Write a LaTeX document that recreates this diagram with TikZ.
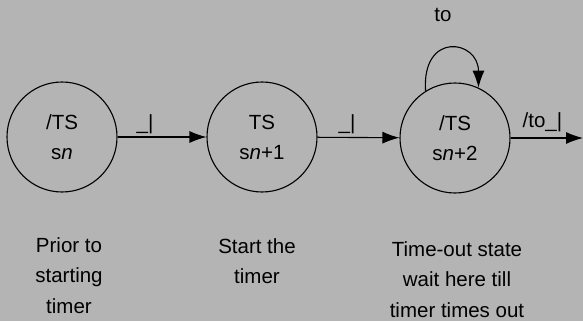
\documentclass[tikz,border=0pt]{standalone}
\usepackage{fontspec}
\setmainfont{Liberation Sans}
\usetikzlibrary{arrows.meta}
\definecolor{panelgray}{RGB}{180,180,180}

\begin{document}
\begin{tikzpicture}[x=1pt, y=-1pt,
  state/.style={draw, circle, line width=1.1pt, minimum size=110pt, inner sep=0pt,
    align=center, font=\fontsize{20.5}{30}\selectfont},
  trans/.style={line width=1.1pt, -{Latex[length=17pt, width=12pt]}},
  lbl/.style={inner sep=0pt, font=\fontsize{20.5}{30}\selectfont},
  note/.style={inner sep=0pt, anchor=north, align=center, font=\fontsize{20.5}{30.5}\selectfont}]
\fill[panelgray] (0,0) rectangle (583,321);
\useasboundingbox (0,0) rectangle (583,321);
% states
\node[state] (sn) at (62,137) {/TS\\s\textit{n}};
\node[state] (sn1) at (262,137) {TS\\s\textit{n}+1};
\node[state] (sn2) at (455,138) {/TS\\s\textit{n}+2};
\coordinate (exit) at (583,138);
% transitions
\draw[trans] (sn) -- node[lbl, pos=.31, anchor=base, yshift=8pt] {\_|} (sn1);
\draw[trans] (sn1) -- node[lbl, pos=.36, anchor=base, yshift=8pt] {\_|} (sn2);
\draw[trans] (sn2) -- node[lbl, pos=.44, anchor=base, yshift=11pt] {/to\_|} (exit);
\draw[trans] (sn2.122) .. controls +(-4,-60) and +(0,-48) .. (sn2.65);
\node[lbl, anchor=base] (tolbl) at (443,22) {to};
% notes under the states
\node[note] (note1) at (69,237) {Prior to\\starting\\timer};
\node[note] (note2) at (257,238) {Start the\\timer};
\node[note] (note3) at (457,241) {Time-out state\\wait here till\\timer times out};
\end{tikzpicture}
\end{document}
